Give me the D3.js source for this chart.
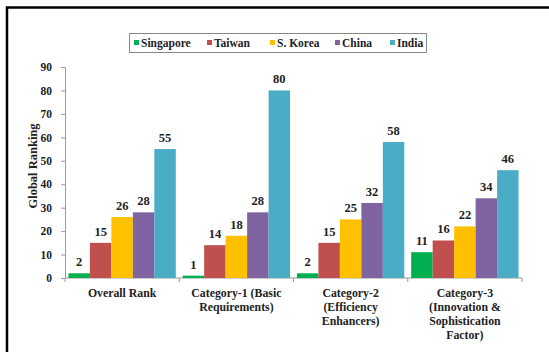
<!DOCTYPE html>
<html><head><meta charset="utf-8">
<script src="https://cdn.jsdelivr.net/npm/d3@7"></script>
<style>body{margin:0;background:#fff}svg{display:block}svg text{font-family:"Liberation Serif",serif !important;font-weight:bold;fill:#222}</style>
</head><body><svg id="c" width="549" height="352"></svg>
<script>
const categories = [["Overall Rank"],["Category-1 (Basic","Requirements)"],["Category-2","(Efficiency","Enhancers)"],["Category-3","(Innovation &","Sophistication","Factor)"]];
const seriesNames = ["Singapore","Taiwan","S. Korea","China","India"];
const singapore = [2,1,2,11];
const taiwan = [15,14,15,16];
const skorea = [26,18,25,22];
const china = [28,28,32,34];
const india = [55,80,58,46];
const yTicks = [0,10,20,30,40,50,60,70,80,90];
const colors = ["#00B050","#C0504D","#FFC000","#8064A2","#4BACC6"];
const values = [singapore,taiwan,skorea,china,india];
const FONT = "Liberation Serif";

const svg = d3.select("#c");
svg.append("rect").attr("x",7).attr("y",7.5).attr("width",600).attr("height",400)
  .attr("fill","none").attr("stroke","#000").attr("stroke-width",2.5);

const x0 = 65, x1 = 522, yb = 278, yt = 67;
const x = d3.scaleBand().domain(d3.range(categories.length)).range([x0,x1]);
const xi = d3.scaleBand().domain(d3.range(seriesNames.length)).range([0,x.bandwidth()]).paddingOuter(0.16);
const y = d3.scaleLinear().domain([0,90]).range([yb,yt]);

// y axis
const ya = svg.append("g").attr("transform",`translate(${x0},0)`)
  .call(d3.axisLeft(y).tickValues(yTicks).tickSize(4).tickSizeOuter(0).tickPadding(9));
ya.attr("font-family",FONT);
ya.selectAll("path,line").attr("stroke","#999");
ya.selectAll("text").attr("font-size",11.5).attr("fill","#222");

// x axis
const xa = svg.append("g").attr("transform",`translate(0,${yb})`);
xa.append("line").attr("x1",x0).attr("x2",x1).attr("stroke","#999");
d3.range(categories.length+1).forEach(i=>{
  const xx = i<categories.length ? x(i) : x1;
  xa.append("line").attr("x1",xx).attr("x2",xx).attr("y1",0).attr("y2",4).attr("stroke","#999");
});

// bars
values.forEach((vals,s)=>{
  const g = svg.append("g");
  g.selectAll("rect").data(vals).join("rect")
    .attr("x",(d,i)=>x(i)+xi(s)).attr("width",xi.bandwidth())
    .attr("y",d=>y(d)).attr("height",d=>yb-y(d)).attr("fill",colors[s]);
  g.selectAll("text").data(vals).join("text")
    .attr("x",(d,i)=>x(i)+xi(s)+xi.bandwidth()/2).attr("y",d=>y(d)-7)
    .attr("text-anchor","middle").attr("font-size",12.5).text(d=>d);
});

// category labels
categories.forEach((lines,i)=>{
  const t = svg.append("text").attr("text-anchor","middle").attr("font-size",11.8);
  lines.forEach((l,j)=>t.append("tspan").attr("x",x(i)+x.bandwidth()/2).attr("y",297+j*14).text(l));
});

// y title
svg.append("text").attr("transform","translate(37,166) rotate(-90)").attr("text-anchor","middle")
  .attr("font-size",12.5).text("Global Ranking");

// legend
svg.append("rect").attr("x",129.5).attr("y",33.5).attr("width",297).attr("height",19)
  .attr("fill","#fff").attr("stroke","#888");
const legX = [134,207,270,335,390];
seriesNames.forEach((n,i)=>{
  svg.append("rect").attr("x",legX[i]).attr("y",40).attr("width",5).attr("height",5).attr("fill",colors[i]);
  svg.append("text").attr("x",legX[i]+7).attr("y",47).attr("font-size",11.5).text(n);
});
svg.selectAll("text").attr("font-family",FONT);
</script></body></html>
